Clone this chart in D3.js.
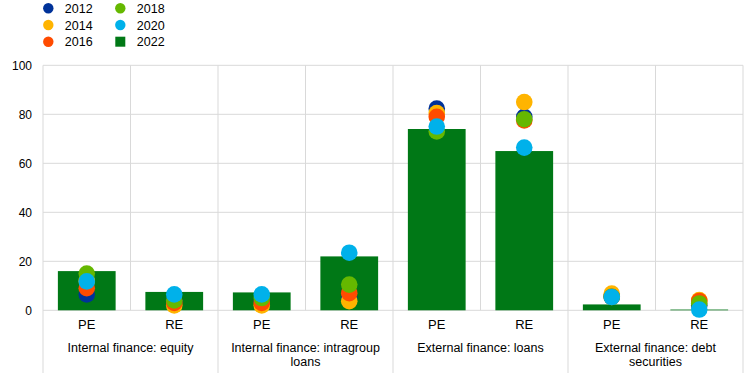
<!DOCTYPE html>
<html><head><meta charset="utf-8">
<script src="https://cdn.jsdelivr.net/npm/d3@7/dist/d3.min.js"></script>
<style>body{margin:0;background:#fff}svg{display:block;font-family:"Liberation Sans",Arial,sans-serif}</style>
</head><body><svg id="c" width="744" height="373"></svg>
<script>
const groups = ["Internal finance: equity", "Internal finance: intragroup loans", "External finance: loans", "External finance: debt securities"];
const groupLines = [["Internal finance: equity"], ["Internal finance: intragroup", "loans"], ["External finance: loans"], ["External finance: debt", "securities"]];
const types = ["PE", "RE"];
const years = ["2012", "2014", "2016", "2018", "2020", "2022"];
const colors = ["#003299", "#ffb400", "#ff4b00", "#65b800", "#00b1ea", "#007816"];
// order: eq PE, eq RE, intra PE, intra RE, loans PE, loans RE, debt PE, debt RE
const v2012 = [6.5, 4, 4, 5, 82.3, 79, 5.5, 2];
const v2014 = [12, 2, 2, 3.7, 80.5, 85, 6.8, 4.2];
const v2016 = [9, 3, 3, 7, 79, 77.5, 5.5, 3.8];
const v2018 = [15, 4, 5, 10.5, 73, 78, 5.5, 2.8];
const v2020 = [11.8, 6.5, 6.5, 23.5, 75, 66.4, 5.4, 0.3];
const v2022 = [16, 7.5, 7.3, 22, 74, 65, 2.4, 0.3];
const yTicks = [0, 20, 40, 60, 80, 100];

const svg = d3.select("#c");
const L = 43, R = 743, T = 65.3, B = 310.3;
const cats = [];
groups.forEach(g => types.forEach(t => cats.push(g + "|" + t)));
const x = d3.scaleBand().domain(cats).range([L, R]).paddingInner(0).paddingOuter(0);
const xg = d3.scaleBand().domain(groups).range([L, R]);
const y = d3.scaleLinear().domain([0, 100]).range([B, T]);
const grid = "#d9d9d9";

svg.append("g").selectAll("line").data(yTicks).join("line")
  .attr("x1", L).attr("x2", R).attr("y1", d => y(d)).attr("y2", d => y(d))
  .attr("stroke", grid).attr("stroke-width", 1);
svg.append("g").selectAll("line").data(groups).join("line")
  .attr("x1", d => x(d + "|RE")).attr("x2", d => x(d + "|RE"))
  .attr("y1", T).attr("y2", B).attr("stroke", grid);
const gb = groups.map(g => xg(g)).concat([R]);
svg.append("g").selectAll("line").data(gb).join("line")
  .attr("x1", d => d).attr("x2", d => d).attr("y1", T).attr("y2", 373).attr("stroke", grid);

const ya = svg.append("g").attr("transform", `translate(${L},0)`)
  .call(d3.axisLeft(y).tickValues(yTicks).tickSize(0).tickPadding(11));
ya.select(".domain").remove();
ya.selectAll("text").attr("font-size", 12).attr("fill", "#000").attr("font-family", "Liberation Sans, Arial, sans-serif");

const bw = x.bandwidth() * 0.66;
svg.append("g").selectAll("rect").data(cats).join("rect")
  .attr("x", d => x(d) + x.bandwidth() / 2 - bw / 2)
  .attr("width", bw)
  .attr("y", (d, i) => y(v2022[i]))
  .attr("height", (d, i) => y(0) - y(v2022[i]))
  .attr("fill", colors[5]);

const series = [v2012, v2014, v2016, v2018, v2020];
series.forEach((s, si) => {
  svg.append("g").selectAll("circle").data(cats).join("circle")
    .attr("cx", d => x(d) + x.bandwidth() / 2)
    .attr("cy", (d, i) => y(s[i]))
    .attr("r", 8.3)
    .attr("fill", colors[si]);
});

svg.append("g").selectAll("text").data(cats).join("text")
  .attr("x", d => x(d) + x.bandwidth() / 2).attr("y", 329)
  .attr("text-anchor", "middle").attr("font-size", 13)
  .text(d => d.split("|")[1]);
groups.forEach((g, gi) => {
  const t = svg.append("text").attr("text-anchor", "middle").attr("font-size", 12.5)
    .attr("x", xg(g) + xg.bandwidth() / 2).attr("y", 352);
  groupLines[gi].forEach((ln, li) => t.append("tspan").attr("x", xg(g) + xg.bandwidth() / 2).attr("dy", li ? 14 : 0).text(ln));
});

const lg = svg.append("g");
years.forEach((yr, i) => {
  const col = Math.floor(i / 3), row = i % 3;
  const cx = 48.3 + col * 72, cy = 8.3 + row * 16.7;
  if (i === 5) lg.append("rect").attr("x", cx - 5).attr("y", cy - 5).attr("width", 10).attr("height", 10).attr("fill", colors[i]);
  else lg.append("circle").attr("cx", cx).attr("cy", cy).attr("r", 5.2).attr("fill", colors[i]);
  lg.append("text").attr("x", cx + 16.5).attr("y", cy + 4.5).attr("font-size", 12.5).text(yr);
});
</script></body></html>
